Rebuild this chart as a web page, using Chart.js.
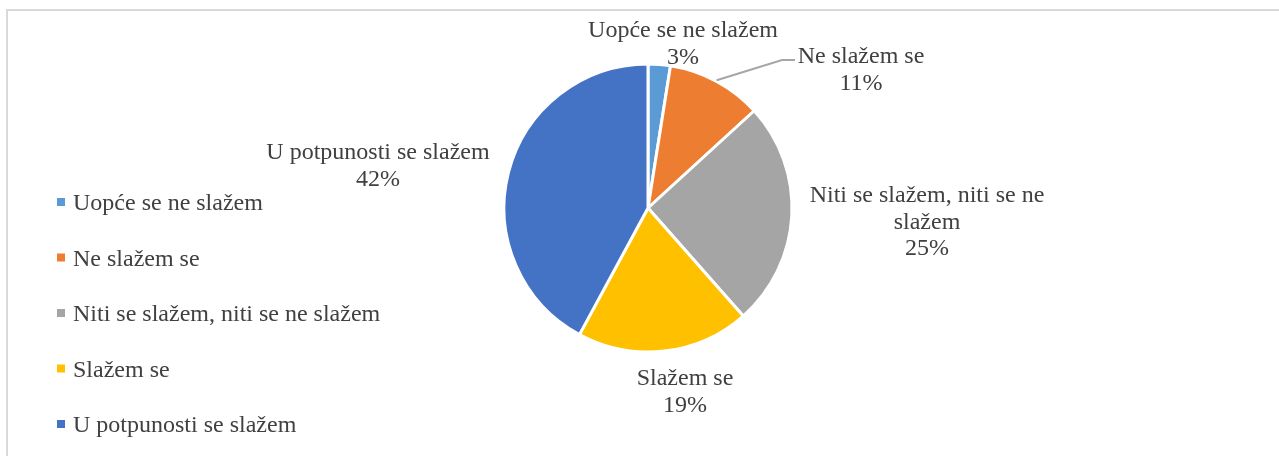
<!DOCTYPE html>
<html>
<head>
<meta charset="utf-8">
<script src="https://cdn.jsdelivr.net/npm/chart.js@4"></script>
<style>
  html, body { margin: 0; padding: 0; background: #fff; }
  canvas { display: block; }
</style>
</head>
<body>
<canvas id="pieChart" width="1279" height="456"></canvas>
<script>
// data
const categories = [
    'Uopće se ne slažem',
    'Ne slažem se',
    'Niti se slažem, niti se ne slažem',
    'Slažem se',
    'U potpunosti se slažem'
];
// shares (labels show them rounded)
const shares = [2.5, 10.7, 25.3, 19.4, 42.1];
const sliceColors = ['#5B9BD5', '#ED7D31', '#A5A5A5', '#FFC000', '#4472C4'];

// label placement, relative to pie centre (first line baseline)
const labelAnchors = [[35, -171], [213, -145], [279, -6], [37, 177], [-270, -49]];

const FONT = '24px "Liberation Serif", "Times New Roman", serif';
const TEXT_COLOR = '#404040';

function wrapText(ctx, text, maxWidth) {
    const words = text.split(' ');
    const lines = [];
    let line = '';
    words.forEach(w => {
        const test = line ? line + ' ' + w : w;
        if (ctx.measureText(test).width > maxWidth && line) {
            lines.push(line);
            line = w;
        } else {
            line = test;
        }
    });
    if (line) lines.push(line);
    return lines;
}

const frame = {
    id: 'frame',
    beforeDraw(chart) {
        const ctx = chart.ctx;
        ctx.save();
        ctx.fillStyle = '#D9D9D9';
        ctx.fillRect(6, 9, chart.width, 2);
        ctx.fillRect(6, 9, 2, chart.height);
        ctx.restore();
    }
};

const pieLabels = {
    id: 'pieLabels',
    afterDatasetsDraw(chart) {
        const ctx = chart.ctx;
        const meta = chart.getDatasetMeta(0);
        const values = chart.data.datasets[0].data;
        const total = values.reduce((a, b) => a + b, 0);
        ctx.save();
        ctx.font = FONT;
        ctx.textBaseline = 'alphabetic';

        meta.data.forEach((arc, i) => {
            const cx = arc.x, cy = arc.y;
            ctx.fillStyle = TEXT_COLOR;
            ctx.textAlign = 'center';
            const lines = wrapText(ctx, chart.data.labels[i], 240);
            lines.push(Math.round(values[i] / total * 100) + '%');
            const [dx, dy] = labelAnchors[i];
            lines.forEach((ln, k) => {
                ctx.fillText(ln, cx + dx, cy + dy + k * 26.7);
            });

            // leader line for "Ne slažem se"
            if (i === 1) {
                const mid = (arc.startAngle + arc.endAngle) / 2;
                const r = arc.outerRadius + 1;
                ctx.beginPath();
                ctx.strokeStyle = '#A6A6A6';
                ctx.lineWidth = 2;
                ctx.moveTo(cx + Math.cos(mid) * r, cy + Math.sin(mid) * r);
                ctx.lineTo(cx + 134, cy - 148);
                ctx.lineTo(cx + 147, cy - 148);
                ctx.stroke();
            }
        });

        // legend
        sliceColors.forEach((c, i) => {
            const yc = 202 + i * 55.5;
            ctx.fillStyle = c;
            ctx.fillRect(57, yc - 4, 8, 8);
            ctx.fillStyle = TEXT_COLOR;
            ctx.textAlign = 'left';
            ctx.fillText(chart.data.labels[i], 73, yc + 8);
        });
        ctx.restore();
    }
};

new Chart(document.getElementById('pieChart').getContext('2d'), {
    type: 'pie',
    data: {
        labels: categories,
        datasets: [{
            data: shares,
            backgroundColor: sliceColors,
            borderColor: '#FFFFFF',
            borderWidth: 3
        }]
    },
    options: {
        responsive: false,
        animation: false,
        radius: 144,
        layout: { padding: { left: 505, right: 488, top: 65, bottom: 105 } },
        plugins: {
            legend: { display: false },
            tooltip: { enabled: false }
        }
    },
    plugins: [frame, pieLabels]
});
</script>
</body>
</html>
